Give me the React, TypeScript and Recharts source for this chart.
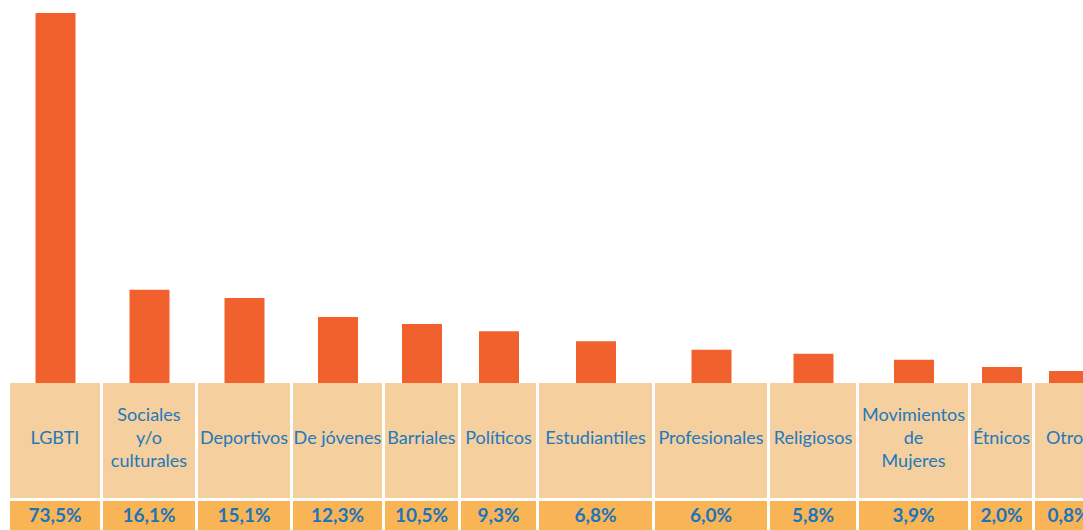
import { Bar, BarChart, XAxis, YAxis } from "recharts";

const categories = [
    "LGBTI",
    "Sociales\ny/o\nculturales",
    "Deportivos",
    "De jóvenes",
    "Barriales",
    "Políticos",
    "Estudiantiles",
    "Profesionales",
    "Religiosos",
    "Movimientos\nde\nMujeres",
    "Étnicos",
    "Otros",
];

// shares printed under each column
const shares = ["73,5%", "16,1%", "15,1%", "12,3%", "10,5%", "9,3%", "6,8%", "6,0%", "5,8%", "3,9%", "2,0%", "0,8%"];

// bar lengths as drawn in the source (they are not strictly proportional to the printed shares)
const barValues = [73.5, 18.5, 16.9, 13.1, 11.7, 10.3, 8.3, 6.6, 5.8, 4.6, 3.2, 2.4];

// column widths of the table under the bars (layout only)
const colWidths = [93, 95, 95, 92, 76, 78, 116, 115, 89, 112, 64, 70];
const GAP = 3;
const totalWidth = colWidths.reduce((a, b) => a + b, 0);
const colStarts = colWidths.map((_, i) => colWidths.slice(0, i).reduce((a, b) => a + b, 0));
const centers = colStarts.map((s, i) => s + (colWidths[i] - GAP) / 2);

const data = categories.map((c, i) => ({ name: c, x: centers[i], value: barValues[i] }));

const FONT = "Lato, 'Open Sans', sans-serif";

const CellTick = (props: any) => {
    const { x, y, index } = props;
    const i = index ?? centers.indexOf(props.payload?.value);
    const w = colWidths[i] - GAP;
    const left = x - w / 2;
    const lines = categories[i].split("\n");
    const lineH = 23;
    const firstBase = 444 - y - ((lines.length - 1) * lineH) / 2;
    return (
        <g>
            <rect x={left} y={y} width={w} height={115} fill="#F5CF9E" />
            <rect x={left} y={y + 118} width={w} height={40} fill="#F9B456" />
            <text textAnchor="middle" fontFamily={FONT} fontSize={18} fill="#2279BD">
                {lines.map((l, k) => (
                    <tspan key={k} x={x} y={y + firstBase + k * lineH}>{l}</tspan>
                ))}
            </text>
            <text x={x} y={522} textAnchor="middle" fontFamily={FONT} fontSize={19} fontWeight={700} fill="#1B75BC">
                {shares[i]}
            </text>
        </g>
    );
};

export default function App() {
    return (
        <div style={{ position: "absolute", left: 0, top: 0, width: 1083, height: 530, overflow: "hidden", background: "#fff" }}>
            <BarChart
                width={10 + totalWidth}
                height={530}
                data={data}
                margin={{ top: 13, right: 0, bottom: 0, left: 10 }}
            >
                <XAxis
                    dataKey="x"
                    type="number"
                    domain={[0, totalWidth]}
                    ticks={centers}
                    interval={0}
                    height={147}
                    axisLine={false}
                    tickLine={false}
                    tickSize={0}
                    tickMargin={0}
                    tick={<CellTick />}
                />
                <YAxis hide domain={[0, 73.5]} />
                <Bar dataKey="value" fill="#F1612D" barSize={40} isAnimationActive={false} />
            </BarChart>
        </div>
    );
}
